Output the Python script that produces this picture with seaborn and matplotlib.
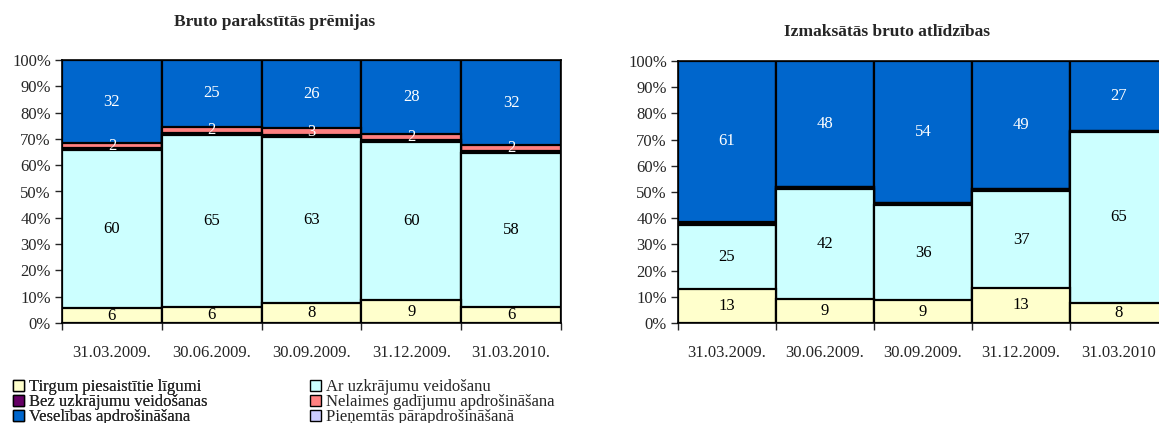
import numpy as np
import pandas as pd
import matplotlib
matplotlib.use('Agg')
import matplotlib.pyplot as plt
from matplotlib.patches import Patch
import seaborn as sns

sns.set_style('white')
plt.rcParams['font.family'] = ['Liberation Serif', 'DejaVu Serif']

#%% Data (shares, %)
dates = ['31.03.2009.', '30.06.2009.', '30.09.2009.', '31.12.2009.', '31.03.2010.']
dates_right = ['31.03.2009.', '30.06.2009.', '30.09.2009.', '31.12.2009.', '31.03.2010']

series = ['Tirgum piesaistītie līgumi', 'Ar uzkrājumu veidošanu', 'Bez uzkrājumu veidošanas',
          'Nelaimes gadījumu apdrošināšana', 'Veselības apdrošināšana', 'Pieņemtās pārapdrošināšanā']
colors = ['#FFFFCC', '#CCFFFF', '#660066', '#FF8080', '#0066CC', '#CCCCFF']
label_colors = ['black', 'black', None, 'white', 'white', None]

# Bruto parakstītās prēmijas
prem_tirgum = [5.6, 6.2, 7.7, 8.6, 6.1]
prem_ar = [60.2, 65.3, 62.9, 60.1, 58.4]
prem_bez = [0.6, 0.7, 0.9, 0.7, 0.8]
prem_nelaimes = [1.9, 2.4, 2.6, 2.4, 2.3]
prem_veselibas = [31.7, 25.4, 25.9, 28.2, 32.4]
prem_pienemtas = [0.0, 0.0, 0.0, 0.0, 0.0]
prem_show = [True, True, False, True, True, False]

# Izmaksātās bruto atlīdzības
atl_tirgum = [12.8, 9.1, 8.6, 13.4, 7.7]
atl_ar = [24.6, 41.9, 36.5, 36.8, 65.3]
atl_bez = [0.3, 0.8, 0.7, 0.8, 0.4]
atl_nelaimes = [0.9, 0.0, 0.0, 0.0, 0.0]
atl_veselibas = [61.4, 48.2, 54.2, 49.0, 26.6]
atl_pienemtas = [0.0, 0.0, 0.0, 0.0, 0.0]
atl_show = [True, True, False, False, True, False]

FS = 12


def stacked(ax, cats, parts, show):
    """Stacked 100% bars drawn as overlaid cumulative seaborn bars."""
    data = np.array(parts)
    cum = np.cumsum(data, axis=0)
    for i in range(len(parts) - 1, -1, -1):
        df = pd.DataFrame({'date': cats, 'val': cum[i]})
        sns.barplot(data=df, x='date', y='val', color=colors[i], width=1.0,
                    edgecolor='black', linewidth=1.6, saturation=1, ax=ax, errorbar=None)
    for i in range(len(parts)):
        if not show[i]:
            continue
        for j in range(len(cats)):
            v = data[i, j]
            ax.text(j, cum[i, j] - v / 2, f'{v:.0f}', ha='center', va='center',
                    fontsize=FS, color=label_colors[i])
    ax.set_xlim(-0.5, len(cats) - 0.5)
    ax.set_ylim(0, 100)
    ax.set_yticks(range(0, 101, 10))
    ax.set_yticklabels([f'{t}%' for t in range(0, 101, 10)])
    ax.set_xticks(np.arange(-0.5, len(cats), 1.0), minor=True)
    ax.tick_params(axis='x', which='major', length=0, pad=16, labelsize=FS)
    ax.tick_params(axis='x', which='minor', length=5, width=1, direction='out', bottom=True)
    ax.tick_params(axis='y', length=5, width=1, direction='out', left=True, labelsize=FS, pad=3)
    ax.set_xlabel('')
    ax.set_ylabel('')
    for s in ax.spines.values():
        s.set_color('black')
        s.set_linewidth(1.2)


fig = plt.figure(figsize=(11.59, 4.23), dpi=100)
ax1 = fig.add_axes([62 / 1159, 100 / 423, 499 / 1159, 263 / 423])
ax2 = fig.add_axes([678 / 1159, 100 / 423, 490 / 1159, 262 / 423])

stacked(ax1, dates, [prem_tirgum, prem_ar, prem_bez, prem_nelaimes, prem_veselibas, prem_pienemtas], prem_show)
stacked(ax2, dates_right, [atl_tirgum, atl_ar, atl_bez, atl_nelaimes, atl_veselibas, atl_pienemtas], atl_show)

fig.text(275 / 1159, 1 - 22 / 423, 'Bruto parakstītās prēmijas', ha='center', va='center',
         fontsize=12.5, fontweight='bold')
fig.text(887 / 1159, 1 - 32 / 423, 'Izmaksātās bruto atlīdzības', ha='center', va='center',
         fontsize=12.5, fontweight='bold')

handles = [Patch(facecolor=c, edgecolor='black', linewidth=1) for c in colors]
leg_kw = dict(loc='upper left', frameon=False, fontsize=FS, labelspacing=-0.05,
              handlelength=0.65, handleheight=0.65, handletextpad=0.3, borderpad=0, borderaxespad=0)
leg1 = fig.legend([handles[0], handles[2], handles[4]], [series[0], series[2], series[4]],
                  bbox_to_anchor=(13 / 1159, 1 - 379 / 423), **leg_kw)
fig.add_artist(leg1)
fig.legend([handles[1], handles[3], handles[5]], [series[1], series[3], series[5]],
           bbox_to_anchor=(310 / 1159, 1 - 379 / 423), **leg_kw)

fig.savefig('out.png', dpi=100)
